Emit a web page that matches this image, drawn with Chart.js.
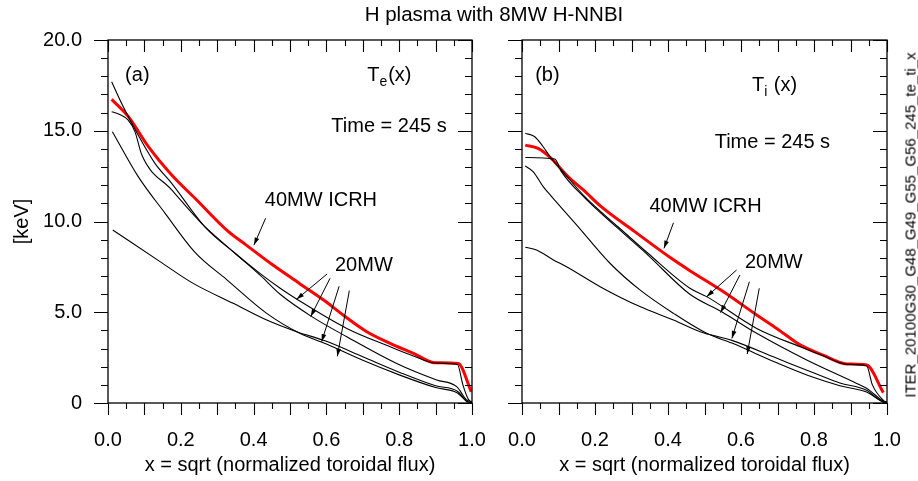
<!DOCTYPE html>
<html>
<head>
<meta charset="utf-8">
<script src="https://cdn.jsdelivr.net/npm/chart.js@4/dist/chart.umd.min.js"></script>
<style>
  body { margin: 0; background: #fff; }
  #wrap { position: relative; width: 918px; height: 481px; font-family: "Liberation Sans", Arial, sans-serif; }
  canvas { position: absolute; top: 0; }
  #title { position: absolute; top: 2px; left: 0; width: 988px; text-align: center; font-size: 20.5px; color: #000; }
  #runId { position: absolute; left: 910px; top: 225px; transform: translate(-50%, -50%) rotate(-90deg); white-space: nowrap; font-size: 15px; color: #000; }
</style>
</head>
<body>
<div id="wrap">
  <canvas id="teChart" width="500" height="481" style="left:0"></canvas>
  <canvas id="tiChart" width="418" height="481" style="left:500px"></canvas>
  <div id="title">H plasma with 8MW H-NNBI</div>
  <div id="runId">ITER_20100G30_G48_G49_G55_G56_245_te_ti_x</div>
</div>
<script>
// x = sqrt(normalized toroidal flux), T in keV ; pairs are [x, T]
// (a) electron temperature
const teIcrh40 = [[0.01,16.73],[0.056,15.78],[0.111,14.12],[0.175,12.56],[0.239,11.28],[0.331,9.44],[0.38,8.7],[0.453,7.6],[0.526,6.59],[0.599,5.58],[0.646,4.85],[0.711,3.93],[0.775,3.29],[0.839,2.74],[0.898,2.22],[0.962,2.18],[0.998,0.62]];
const te20a = [[0.01,17.7],[0.04,16.4],[0.079,14.9],[0.129,13.2],[0.175,12.1],[0.266,9.71],[0.349,8.25],[0.42,7.1],[0.473,6.32],[0.518,5.73],[0.656,4.11],[0.775,3.1],[0.839,2.59],[0.898,2.2],[0.96,2.12],[0.975,1.0],[0.99,0.2],[1.0,0.05]];
const te20b = [[0.01,16.05],[0.032,15.9],[0.055,15.6],[0.074,14.95],[0.093,13.66],[0.175,11.74],[0.257,9.9],[0.349,8.25],[0.42,7.0],[0.473,5.99],[0.56,4.76],[0.656,3.65],[0.793,2.18],[0.903,1.27],[0.958,0.9],[0.985,0.17],[1.0,0.05]];
const te20c = [[0.012,14.95],[0.083,12.47],[0.157,10.45],[0.239,8.3],[0.326,6.8],[0.436,4.94],[0.527,3.84],[0.6,3.25],[0.7,2.35],[0.8,1.55],[0.9,0.85],[0.96,0.55],[0.985,0.1],[1.0,0]];
const te20d = [[0.013,9.53],[0.143,7.79],[0.234,6.59],[0.344,5.49],[0.436,4.57],[0.518,3.93],[0.6,3.4],[0.7,2.55],[0.8,1.7],[0.9,0.95],[0.96,0.65],[0.985,0.1],[1.0,0]];

// (b) ion temperature
const tiIcrh40 = [[0.009,14.21],[0.044,14.03],[0.08,13.48],[0.126,12.47],[0.168,11.74],[0.217,10.82],[0.309,9.44],[0.409,7.97],[0.46,7.29],[0.552,6.13],[0.643,4.85],[0.698,4.11],[0.762,3.2],[0.825,2.64],[0.89,2.15],[0.944,2.09],[0.99,0.57]];
const ti20a = [[0.009,14.86],[0.035,14.67],[0.058,14.12],[0.08,13.48],[0.108,12.84],[0.172,11.37],[0.263,9.71],[0.345,8.25],[0.46,6.32],[0.506,5.86],[0.643,4.11],[0.762,3.1],[0.825,2.6],[0.89,2.13],[0.944,2.05],[0.96,1.0],[0.99,0.15],[1.0,0.05]];
const ti20b = [[0.009,13.53],[0.09,13.44],[0.108,12.75],[0.172,11.3],[0.263,9.62],[0.345,8.15],[0.46,5.99],[0.547,5.03],[0.643,3.84],[0.78,2.37],[0.917,1.08],[0.944,0.81],[0.99,0.1],[1.0,0.02]];
const ti20c = [[0.009,13.06],[0.031,12.74],[0.058,11.92],[0.08,11.4],[0.15,9.8],[0.241,7.7],[0.323,6.23],[0.415,4.94],[0.506,3.84],[0.575,3.3],[0.7,2.2],[0.8,1.4],[0.871,0.95],[0.944,0.6],[0.985,0.1],[1.0,0]];
const ti20d = [[0.009,8.58],[0.04,8.43],[0.086,7.88],[0.122,7.51],[0.214,6.41],[0.323,5.31],[0.415,4.57],[0.488,3.93],[0.575,3.45],[0.7,2.45],[0.8,1.65],[0.871,1.1],[0.944,0.7],[0.985,0.1],[1.0,0]];

const xTickLabels = ['0.0', '0.2', '0.4', '0.6', '0.8', '1.0'];
const yTickLabels = ['0', '5.0', '10.0', '15.0', '20.0'];

const FONT = '"Liberation Sans", Arial, sans-serif';

// annotation text and arrows, in data units
const teNotes = {
  texts: [
    { text: '(a)', x: 0.047, y: 18.05, align: 'left' },
    { main: 'T', sub: 'e', rest: '(x)', x: 0.712, y: 18.05 },
    { text: 'Time = 245 s', x: 0.772, y: 15.25, align: 'center' },
    { text: '40MW ICRH', x: 0.585, y: 11.18, align: 'center' },
    { text: '20MW', x: 0.703, y: 7.55, align: 'center' }
  ],
  arrows: [
    [0.433, 10.18, 0.401, 8.7],
    [0.602, 7.11, 0.518, 5.71],
    [0.61, 6.87, 0.557, 4.77],
    [0.635, 6.43, 0.587, 3.38],
    [0.663, 6.19, 0.63, 2.57]
  ]
};
const tiNotes = {
  texts: [
    { text: '(b)', x: 0.036, y: 18.05, align: 'left' },
    { main: 'T', sub: 'i', rest: ' (x)', x: 0.63, y: 17.5 },
    { text: 'Time = 245 s', x: 0.686, y: 14.35, align: 'center' },
    { text: '40MW ICRH', x: 0.503, y: 10.85, align: 'center' },
    { text: '20MW', x: 0.69, y: 7.74, align: 'center' }
  ],
  arrows: [
    [0.415, 9.93, 0.389, 8.52],
    [0.588, 7.33, 0.506, 5.86],
    [0.597, 7.05, 0.544, 4.98],
    [0.623, 6.68, 0.575, 3.56],
    [0.65, 6.32, 0.617, 2.7]
  ]
};

function toPoints(pairs) {
  return pairs.map(p => ({ x: p[0], y: p[1] }));
}

function line(pairs, color, width) {
  return {
    data: toPoints(pairs),
    borderColor: color,
    borderWidth: width,
    pointRadius: 0,
    cubicInterpolationMode: 'monotone',
    fill: false
  };
}

// frame with minor/major ticks like the original plotting package, plus notes
function framePlugin(notes) {
  return {
    id: 'frame',
    afterDatasetsDraw(chart) {
      const { ctx, chartArea: a, scales } = chart;
      const xs = scales.x, ys = scales.y;
      ctx.save();
      ctx.strokeStyle = '#000';
      ctx.lineWidth = 1.3;
      ctx.strokeRect(a.left, a.top, a.right - a.left, a.bottom - a.top);
      ctx.lineWidth = 1.1;
      ctx.beginPath();
      for (let i = 0; i <= 20; i++) {
        const y = Math.round(ys.getPixelForValue(i)) + 0.5;
        const len = i % 5 === 0 ? 14 : 7;
        ctx.moveTo(a.left, y); ctx.lineTo(a.left - len, y);
        ctx.moveTo(a.right, y); ctx.lineTo(a.right - len, y);
      }
      for (let i = 0; i <= 20; i++) {
        const x = Math.round(xs.getPixelForValue(i / 20)) + 0.5;
        const len = i % 2 === 0 ? 12 : 6;
        ctx.moveTo(x, a.top); ctx.lineTo(x, a.top + len);
        ctx.moveTo(x, a.bottom); ctx.lineTo(x, a.bottom + len);
      }
      ctx.stroke();

      ctx.fillStyle = '#000';
      ctx.textBaseline = 'middle';
      notes.texts.forEach(t => {
        const px = xs.getPixelForValue(t.x), py = ys.getPixelForValue(t.y);
        if (t.main) {
          ctx.textAlign = 'left';
          ctx.font = '20px ' + FONT;
          ctx.fillText(t.main, px, py);
          let w = ctx.measureText(t.main).width;
          ctx.font = '14px ' + FONT;
          ctx.fillText(t.sub, px + w, py + 7);
          w += ctx.measureText(t.sub).width + 1;
          ctx.font = '20px ' + FONT;
          ctx.fillText(t.rest, px + w, py);
        } else {
          ctx.textAlign = t.align;
          ctx.font = '20px ' + FONT;
          ctx.fillText(t.text, px, py);
        }
      });

      ctx.lineWidth = 1;
      notes.arrows.forEach(ar => {
        const x0 = xs.getPixelForValue(ar[0]), y0 = ys.getPixelForValue(ar[1]);
        const x1 = xs.getPixelForValue(ar[2]), y1 = ys.getPixelForValue(ar[3]);
        const ang = Math.atan2(y1 - y0, x1 - x0);
        ctx.beginPath();
        ctx.moveTo(x0, y0); ctx.lineTo(x1, y1);
        ctx.stroke();
        ctx.beginPath();
        ctx.moveTo(x1, y1);
        ctx.lineTo(x1 - 8 * Math.cos(ang - 0.3), y1 - 8 * Math.sin(ang - 0.3));
        ctx.lineTo(x1 - 8 * Math.cos(ang + 0.3), y1 - 8 * Math.sin(ang + 0.3));
        ctx.closePath();
        ctx.fill();
      });
      ctx.restore();
    }
  };
}

function makeChart(id, datasets, notes, opts) {
  return new Chart(document.getElementById(id), {
    type: 'line',
    data: { datasets: datasets },
    options: {
      responsive: false,
      animation: false,
      events: [],
      layout: { padding: { left: 0, top: 40, right: opts.padRight, bottom: 0 } },
      plugins: { legend: { display: false }, tooltip: { enabled: false } },
      scales: {
        x: {
          type: 'linear', min: 0, max: 1,
          // invisible tick length only spaces the labels away from the frame
          grid: { display: false, drawTicks: true, tickLength: 24 },
          border: { display: false },
          ticks: {
            stepSize: 0.2, padding: 1, color: '#000',
            font: { family: FONT, size: 20 },
            callback: (v) => xTickLabels[Math.round(v * 5)],
            maxRotation: 0
          },
          title: {
            display: true, text: 'x = sqrt (normalized toroidal flux)', color: '#000',
            font: { family: FONT, size: 20 }, padding: { top: 0, bottom: 4 }
          },
          afterFit: (s) => { s.height = 78; }
        },
        y: {
          type: 'linear', min: 0, max: 20,
          grid: { display: false, drawTicks: true, tickLength: 24 },
          border: { display: false },
          ticks: {
            display: opts.showY, stepSize: 5, padding: 2, color: '#000',
            font: { family: FONT, size: 20 },
            callback: (v) => yTickLabels[Math.round(v / 5)]
          },
          title: {
            display: opts.showY, text: '[keV]', color: '#000',
            font: { family: FONT, size: 20 }, padding: { top: 10, bottom: 0 }
          },
          afterFit: (s) => { s.width = opts.axisWidth; }
        }
      }
    },
    plugins: [framePlugin(notes)]
  });
}

makeChart('teChart', [
  line(te20a, '#000', 1.1),
  line(te20b, '#000', 1.1),
  line(te20c, '#000', 1.1),
  line(te20d, '#000', 1.1),
  line(teIcrh40, '#ff0000', 3)
], teNotes, { showY: true, axisWidth: 108, padRight: 28 });

makeChart('tiChart', [
  line(ti20a, '#000', 1.1),
  line(ti20b, '#000', 1.1),
  line(ti20c, '#000', 1.1),
  line(ti20d, '#000', 1.1),
  line(tiIcrh40, '#ff0000', 3)
], tiNotes, { showY: false, axisWidth: 22, padRight: 31 });
</script>
</body>
</html>
